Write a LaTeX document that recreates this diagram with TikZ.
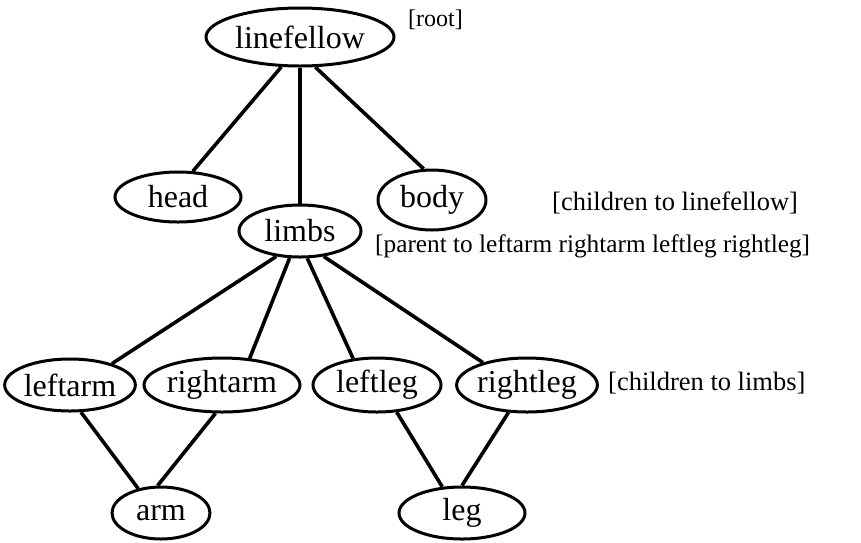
\documentclass[tikz,border=0pt]{standalone}
\usepackage{fontspec}
\setmainfont{Liberation Serif}
\usetikzlibrary{shapes.geometric}
\begin{document}
\begin{tikzpicture}[x=1pt,y=-1pt,
  nd/.style={draw, ellipse, line width=3pt, inner sep=0pt, font=\fontsize{32}{34}\selectfont},
  cn/.style={line width=3.6pt},
  lbl/.style={font=\fontsize{26.5}{28}\selectfont, inner sep=0pt, anchor=west},
  plbl/.style={font=\fontsize{25.3}{27}\selectfont, inner sep=0pt, anchor=west},
  sml/.style={font=\fontsize{24}{26}\selectfont, inner sep=0pt, anchor=west}]
\useasboundingbox (0,0) rectangle (861,542);
\node[nd, minimum width=188pt, minimum height=58pt] (linefellow) at (300,37) {linefellow};
\node[nd, minimum width=126pt, minimum height=50pt] (head) at (178,197) {head};
\node[nd, minimum width=122pt, minimum height=52pt] (limbs) at (300,231) {limbs};
\node[nd, minimum width=108pt, minimum height=60pt] (body) at (432,200) {body};
\node[nd, minimum width=128pt, minimum height=52pt] (leftarm) at (70,385) {leftarm};
\node[nd, minimum width=156pt, minimum height=54pt] (rightarm) at (222,385) {rightarm};
\node[nd, minimum width=128pt, minimum height=54pt] (leftleg) at (377,385) {leftleg};
\node[nd, minimum width=136pt, minimum height=54pt] (rightleg) at (527,385) {rightleg};
\node[nd, minimum width=98pt, minimum height=52pt] (arm) at (161,513) {arm};
\node[nd, minimum width=126pt, minimum height=52pt] (leg) at (462,513) {leg};
\node[sml] (root) at (408,20) {[root]};
\node[lbl] (c1) at (552,203) {[children to linefellow]};
\node[plbl] (p1) at (375,246) {[parent to leftarm rightarm leftleg rightleg]};
\node[lbl] (c2) at (608,383) {[children to limbs]};
\draw[cn] (linefellow.-122) -- (head.60);
\draw[cn] (linefellow.south) -- (limbs.north);
\draw[cn] (linefellow.-63) -- (body.105);
\draw[cn] (limbs.-133) -- (leftarm.27);
\draw[cn] (limbs.-111) -- (rightarm.44);
\draw[cn] (limbs.-75) -- (leftleg.132);
\draw[cn] (limbs.-47) -- (rightleg.153);
\draw[cn] (leftarm.-68) -- (arm.133);
\draw[cn] (rightarm.-103) -- (arm.97);
\draw[cn] (leftleg.-54) -- (leg.127);
\draw[cn] (rightleg.-124) -- (leg.90);
\end{tikzpicture}
\end{document}
